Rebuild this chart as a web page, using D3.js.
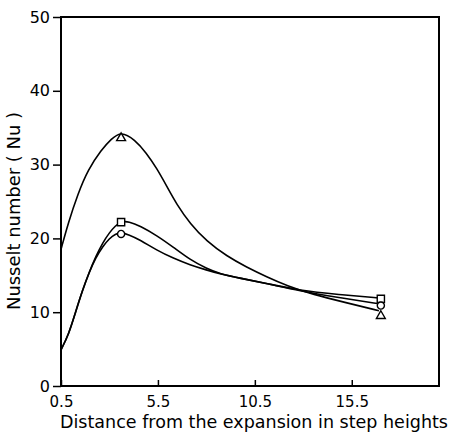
<!DOCTYPE html>
<html>
<head>
<meta charset="utf-8">
<script src="https://cdn.jsdelivr.net/npm/d3@7"></script>
<style>
  html, body { margin: 0; padding: 0; background: #fff; }
  svg { display: block; }
  text { font-family: "DejaVu Sans", sans-serif; fill: #000; }
</style>
</head>
<body>
<svg id="chart" width="454" height="434"></svg>
<script>
// ---- Data ----
const xTicks = [0.5, 5.5, 10.5, 15.5];
const xTickLabels = ["0.5", "5.5", "10.5", "15.5"];
const yTicks = [0, 10, 20, 30, 40, 50];
const yTickLabels = ["0", "10", "20", "30", "40", "50"];

// Triangle series (smooth curve points)
const triX = [0.5, 0.86, 1.38, 1.89, 2.58, 3.1, 3.6, 4.3, 4.9, 5.44, 5.95, 6.47, 7.16, 8.02, 9.05, 10.08, 11.11, 12.15, 13.5, 15.2, 16.9];
const triY = [18.5, 22.0, 26.1, 29.3, 32.0, 33.5, 34.5, 33.4, 31.6, 29.5, 27.1, 24.6, 22.0, 19.6, 17.6, 16.1, 14.8, 13.6, 12.4, 11.3, 10.2];
// Square series
const sqX = [0.5, 0.9, 1.25, 1.6, 1.95, 2.3, 2.65, 3.0, 3.3, 3.6, 4.0, 4.58, 5.44, 6.3, 7.16, 8.02, 8.7, 9.74, 11.1, 12.8, 14.8, 17];
const sqY = [4.9, 7.0, 10.0, 12.9, 15.4, 17.6, 19.4, 20.8, 21.7, 22.3, 22.3, 21.7, 20.4, 18.8, 17.1, 15.9, 15.2, 14.6, 13.9, 12.95, 12.4, 11.9];
// Circle series
const ciX = [0.5, 0.9, 1.25, 1.6, 1.95, 2.3, 2.65, 3.0, 3.3, 3.6, 4.0, 4.58, 5.44, 6.3, 7.16, 8.02, 8.7, 9.74, 11.1, 12.8, 14.8, 17];
const ciY = [4.9, 7.0, 10.0, 12.9, 15.4, 17.4, 18.9, 20.0, 20.6, 20.8, 20.5, 19.8, 18.4, 17.3, 16.4, 15.7, 15.2, 14.6, 13.9, 12.9, 12.0, 11.1];

// Measured points (markers)
const markerX = [3.6, 17];
const triMarkerY = [33.6, 9.5];
const sqMarkerY = [22.2, 11.8];
const ciMarkerY = [20.6, 10.9];

const xTitle = "Distance from the expansion in step heights";
const yTitle = "Nusselt number ( Nu )";

// ---- Drawing ----
const svg = d3.select("#chart");
const mLeft = 61, mRight = 439, mTop = 17, mBottom = 386;

const x = d3.scaleLinear().domain([0.5, 20]).range([mLeft, mRight]);
const y = d3.scaleLinear().domain([0, 50]).range([mBottom, mTop]);

// Axes
const xAxis = d3.axisBottom(x)
  .tickValues(xTicks)
  .tickFormat((d, i) => xTickLabels[i])
  .tickSizeInner(-6).tickSizeOuter(0).tickPadding(10);
const gx = svg.append("g").attr("transform", `translate(0,${mBottom})`).call(xAxis);
gx.select(".domain").remove();
gx.selectAll("line").attr("stroke", "#000").attr("stroke-width", 1.5);
gx.selectAll("text").style("font-size", "15px");

const yAxis = d3.axisLeft(y)
  .tickValues(yTicks)
  .tickFormat((d, i) => yTickLabels[i])
  .tickSizeInner(8).tickSizeOuter(0).tickPadding(3);
const gy = svg.append("g").attr("transform", `translate(${mLeft},0)`).call(yAxis);
gy.select(".domain").remove();
gy.selectAll("line").attr("stroke", "#000").attr("stroke-width", 1.5);
gy.selectAll("text").style("font-size", "16px");

// Frame
svg.append("rect")
  .attr("x", mLeft).attr("y", mTop)
  .attr("width", mRight - mLeft).attr("height", mBottom - mTop)
  .attr("fill", "none").attr("stroke", "#000").attr("stroke-width", 2);

// Curves
const line = d3.line()
  .x(d => x(d[0])).y(d => y(d[1]))
  .curve(d3.curveBasis);

const series = [
  d3.zip(triX, triY),
  d3.zip(sqX, sqY),
  d3.zip(ciX, ciY)
];
svg.append("g").selectAll("path")
  .data(series)
  .join("path")
  .attr("d", line)
  .attr("fill", "none")
  .attr("stroke", "#000")
  .attr("stroke-width", 1.6);

// Markers
const markerSets = [
  { type: d3.symbolTriangle, size: 34, ys: triMarkerY },
  { type: d3.symbolSquare, size: 52, ys: sqMarkerY },
  { type: d3.symbolCircle, size: 40, ys: ciMarkerY }
];
markerSets.forEach(ms => {
  svg.append("g").selectAll("path")
    .data(d3.zip(markerX, ms.ys))
    .join("path")
    .attr("transform", d => `translate(${x(d[0])},${y(d[1])})`)
    .attr("d", d3.symbol().type(ms.type).size(ms.size))
    .attr("fill", "#fff")
    .attr("stroke", "#000")
    .attr("stroke-width", 1.4);
});

// Titles
svg.append("text")
  .attr("x", 254).attr("y", 428)
  .attr("text-anchor", "middle")
  .attr("textLength", 388).attr("lengthAdjust", "spacingAndGlyphs")
  .style("font-size", "17px")
  .text(xTitle);

svg.append("text")
  .attr("transform", "translate(20,211) rotate(-90)")
  .attr("text-anchor", "middle")
  .attr("textLength", 198).attr("lengthAdjust", "spacingAndGlyphs")
  .style("font-size", "18px")
  .text(yTitle);
</script>
</body>
</html>
